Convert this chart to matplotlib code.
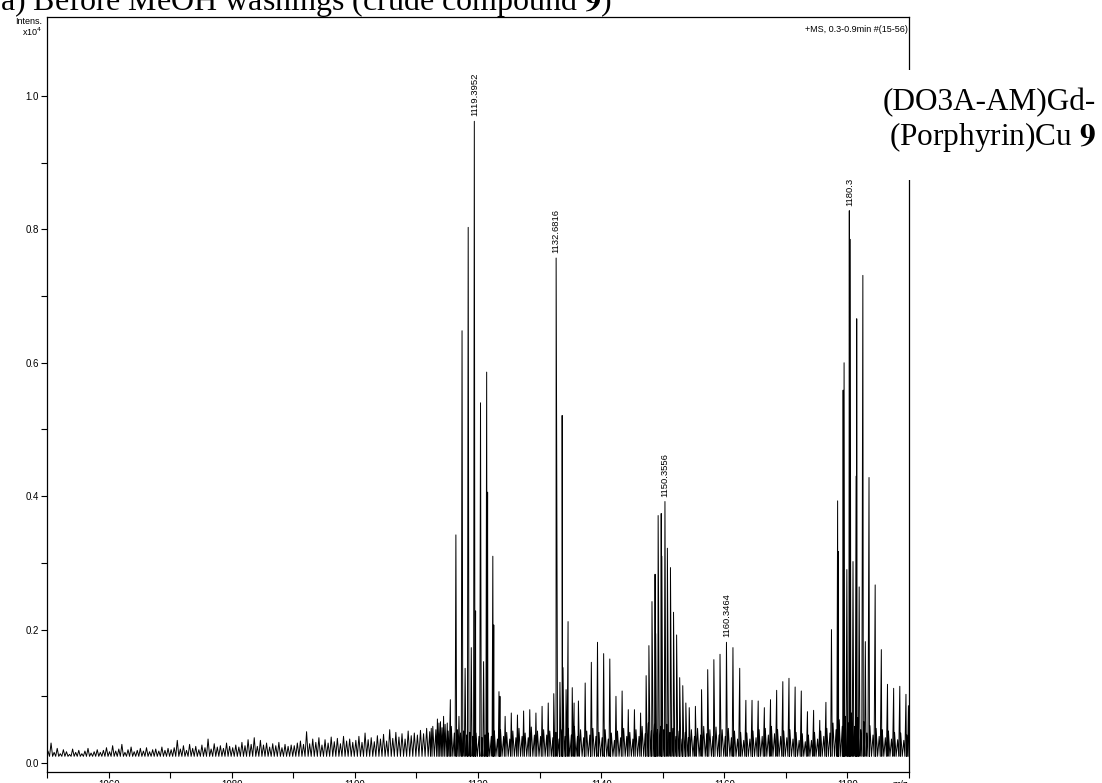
import numpy as np
import matplotlib.pyplot as plt
from matplotlib.patches import Rectangle

plt.rcParams["font.family"] = ["Liberation Sans", "DejaVu Sans"]

# labelled peaks
label_mz = [1119.3952, 1132.6816, 1150.3556, 1160.3464, 1180.3]
label_txt = ["1119.3952", "1132.6816", "1150.3556", "1160.3464", "1180.3"]

# main isotope clusters, m/z and intensity (x10^4)
peak_mz = [
    1112.4, 1113.4, 1113.9, 1114.4, 1115.0, 1115.5, 1116.4, 1116.9, 1117.4, 1117.9,
    1118.4, 1118.9, 1119.3952, 1119.6, 1120.4, 1120.9, 1121.4, 1121.55, 1122.4, 1122.55,
    1123.4, 1123.55, 1124.4, 1125.4, 1126.4, 1127.4, 1128.4, 1129.4, 1130.4, 1131.4,
    1132.3, 1132.6816, 1133.3, 1133.66, 1133.8, 1134.3, 1134.62, 1135.3, 1135.6, 1136.3,
    1137.4, 1138.4, 1139.4, 1140.4, 1141.4, 1142.4, 1143.4, 1144.4, 1145.4, 1146.4,
    1147.3, 1147.75, 1148.25, 1148.75, 1148.85, 1149.25, 1149.75, 1149.85, 1150.3556, 1150.75,
    1151.25, 1151.75, 1152.25, 1152.75, 1153.25, 1153.75, 1154.3, 1155.3, 1156.3, 1157.3,
    1158.3, 1159.3, 1160.3464, 1161.4, 1162.5, 1163.5, 1164.5, 1165.5, 1166.5, 1167.5,
    1168.5, 1169.5, 1170.5, 1171.5, 1172.5, 1173.5, 1174.5, 1175.5, 1176.5, 1177.4,
    1178.4, 1178.5, 1179.3, 1179.45, 1179.9, 1180.3, 1180.45, 1180.9, 1181.4, 1181.5,
    1181.9, 1182.5, 1182.9, 1183.5, 1184.5, 1185.5, 1186.5, 1187.5, 1188.5, 1189.5,
    1189.9,
]
peak_int = [
    0.052, 0.066, 0.062, 0.070, 0.060, 0.095, 0.342, 0.070, 0.648, 0.142,
    0.803, 0.173, 0.962, 0.228, 0.540, 0.152, 0.586, 0.406, 0.310, 0.207,
    0.107, 0.100, 0.070, 0.075, 0.072, 0.078, 0.080, 0.075, 0.085, 0.090,
    0.104, 0.757, 0.121, 0.521, 0.143, 0.110, 0.212, 0.113, 0.090, 0.093,
    0.120, 0.151, 0.181, 0.164, 0.156, 0.100, 0.108, 0.080, 0.080, 0.075,
    0.131, 0.176, 0.242, 0.283, 0.194, 0.371, 0.374, 0.310, 0.392, 0.322,
    0.293, 0.226, 0.192, 0.128, 0.116, 0.090, 0.083, 0.085, 0.110, 0.140,
    0.155, 0.163, 0.181, 0.173, 0.142, 0.094, 0.094, 0.093, 0.083, 0.095,
    0.109, 0.122, 0.127, 0.114, 0.108, 0.077, 0.079, 0.064, 0.091, 0.200,
    0.393, 0.317, 0.559, 0.600, 0.290, 0.828, 0.785, 0.302, 0.430, 0.666,
    0.264, 0.731, 0.182, 0.428, 0.267, 0.170, 0.118, 0.112, 0.115, 0.103,
    0.086,
]

# baseline noise spikes, every 0.5 m/z from 1050.15
noise_start = 1050.15
noise_step = 0.5
noise_int = [
    0.018, 0.030, 0.016, 0.022, 0.014, 0.020, 0.017, 0.013, 0.021, 0.016,
    0.019, 0.014, 0.018, 0.022, 0.015, 0.017, 0.020, 0.016, 0.019, 0.023,
    0.017, 0.026, 0.018, 0.021, 0.028, 0.016, 0.020, 0.024, 0.017, 0.019,
    0.022, 0.018, 0.023, 0.017, 0.020, 0.021, 0.018, 0.024, 0.019, 0.022,
    0.020, 0.023, 0.034, 0.021, 0.026, 0.019, 0.028, 0.022, 0.025, 0.020,
    0.027, 0.023, 0.036, 0.021, 0.029, 0.024, 0.026, 0.022, 0.030, 0.025,
    0.023, 0.027, 0.024, 0.031, 0.026, 0.035, 0.028, 0.038, 0.025, 0.034,
    0.027, 0.030, 0.024, 0.029, 0.026, 0.031, 0.023, 0.028, 0.025, 0.027,
    0.026, 0.030, 0.033, 0.028, 0.047, 0.029, 0.036, 0.031, 0.038, 0.027,
    0.035, 0.030, 0.039, 0.032, 0.037, 0.029, 0.040, 0.033, 0.036, 0.031,
    0.034, 0.040, 0.031, 0.045, 0.035, 0.038, 0.032, 0.041, 0.036, 0.043,
    0.033, 0.050, 0.037, 0.046, 0.039, 0.044, 0.036, 0.048, 0.041, 0.045,
    0.042, 0.049, 0.044, 0.052, 0.047, 0.055, 0.050, 0.060, 0.053, 0.058,
    0.048, 0.055, 0.045, 0.050, 0.045, 0.048, 0.042, 0.046, 0.040, 0.045,
    0.040, 0.038, 0.042, 0.045, 0.040, 0.048, 0.036, 0.050, 0.040, 0.046,
    0.036, 0.048, 0.038, 0.052, 0.040, 0.045, 0.038, 0.054, 0.042, 0.048,
    0.040, 0.050, 0.042, 0.048, 0.038, 0.046, 0.036, 0.050, 0.040, 0.052,
    0.042, 0.055, 0.040, 0.050, 0.038, 0.048, 0.042, 0.052, 0.040, 0.046,
    0.038, 0.050, 0.036, 0.045, 0.034, 0.048, 0.038, 0.052, 0.040, 0.046,
    0.036, 0.050, 0.040, 0.055, 0.044, 0.060, 0.048, 0.058, 0.050, 0.055,
    0.050, 0.058, 0.046, 0.052, 0.040, 0.048, 0.036, 0.046, 0.038, 0.050,
    0.040, 0.052, 0.042, 0.055, 0.044, 0.050, 0.040, 0.054, 0.042, 0.050,
    0.040, 0.052, 0.038, 0.048, 0.036, 0.046, 0.034, 0.045, 0.036, 0.048,
    0.038, 0.050, 0.040, 0.052, 0.042, 0.055, 0.044, 0.050, 0.040, 0.048,
    0.038, 0.050, 0.036, 0.046, 0.034, 0.044, 0.032, 0.042, 0.034, 0.046,
    0.036, 0.048, 0.040, 0.052, 0.045, 0.060, 0.050, 0.065, 0.055, 0.070,
    0.060, 0.075, 0.055, 0.068, 0.050, 0.062, 0.045, 0.056, 0.042, 0.052,
    0.040, 0.050, 0.038, 0.048, 0.036, 0.046, 0.035, 0.045, 0.034, 0.042,
]
baseline = 0.010

noise_mz = noise_start + noise_step * np.arange(len(noise_int))
mz = np.concatenate([np.array(peak_mz), noise_mz])
inten = np.concatenate([np.array(peak_int), np.array(noise_int)])
order = np.argsort(mz)
mz, inten = mz[order], inten[order]

# trace: each peak top joined to the next through a valley at the baseline
mid = (mz[:-1] + mz[1:]) / 2
xs = np.empty(len(mz) * 2 + 1)
ys = np.empty_like(xs)
xs[0], ys[0] = 1050.0, baseline
xs[1::2], ys[1::2] = mz, inten
xs[2:-1:2], ys[2:-1:2] = mid, baseline
xs[-1], ys[-1] = 1190.0, baseline

fig = plt.figure(figsize=(11.02, 7.83), dpi=100)
ax = fig.add_axes([0.0427, 0.014, 0.7822, 0.964])
ax.plot(xs, ys, color="black", lw=0.7)

ax.set_xlim(1050, 1190)
ax.set_ylim(-0.0135, 1.118)
ax.set_xticks([1060, 1080, 1100, 1120, 1140, 1160, 1180])
ax.set_xticks(np.arange(1050, 1191, 10), minor=True)
ax.set_yticks([0.0, 0.2, 0.4, 0.6, 0.8, 1.0])
ax.set_yticks([0.1, 0.3, 0.5, 0.7, 0.9], minor=True)
ax.set_yticklabels(["0.0", "0.2", "0.4", "0.6", "0.8", "1.0"])
ax.tick_params(which="both", direction="out", length=4, width=0.8,
               labelsize=7, pad=2)
for s in ax.spines.values():
    s.set_linewidth(0.9)

# peak labels
for m, t in zip(label_mz, label_txt):
    h = peak_int[peak_mz.index(m)]
    ax.annotate(t, (m, h), xytext=(0, 3.5), textcoords="offset points",
                rotation=90, ha="center", va="bottom", fontsize=6.8)

ax.text(0.9985, 0.99, "+MS, 0.3-0.9min #(15-56)", transform=ax.transAxes,
        ha="right", va="top", fontsize=6.5)
ax.text(0.99, -0.011, "m/z", transform=ax.transAxes, ha="center", va="top",
        fontsize=7)

fig.text(42 / 1102, 1 - 22 / 783, "Intens.", ha="right", va="center", fontsize=6.5)
fig.text(42 / 1102, 1 - 32 / 783, "x10$^4$", ha="right", va="center", fontsize=6.5)

serif = ["Liberation Serif", "DejaVu Serif"]
fig.text(0.0, 1 - 10 / 783, "a) Before MeOH washings (crude compound $\\mathbf{9}$)",
         ha="left", va="baseline", fontsize=23, family=serif,
         math_fontfamily="stix")

# gap in the right spine behind the compound name
fig.add_artist(Rectangle((900 / 1102, 1 - 180 / 783), 16 / 1102, 110 / 783,
                         transform=fig.transFigure, facecolor="white",
                         edgecolor="none", zorder=5))
fig.text(1096 / 1102, 1 - 110 / 783, "(DO3A-AM)Gd-", ha="right", va="baseline",
         fontsize=22.5, family=serif, zorder=6)
fig.text(1096 / 1102, 1 - 145 / 783, "(Porphyrin)Cu $\\mathbf{9}$", ha="right",
         va="baseline", fontsize=22.5, family=serif, math_fontfamily="stix",
         zorder=6)

fig.savefig("out.png", dpi=100)
